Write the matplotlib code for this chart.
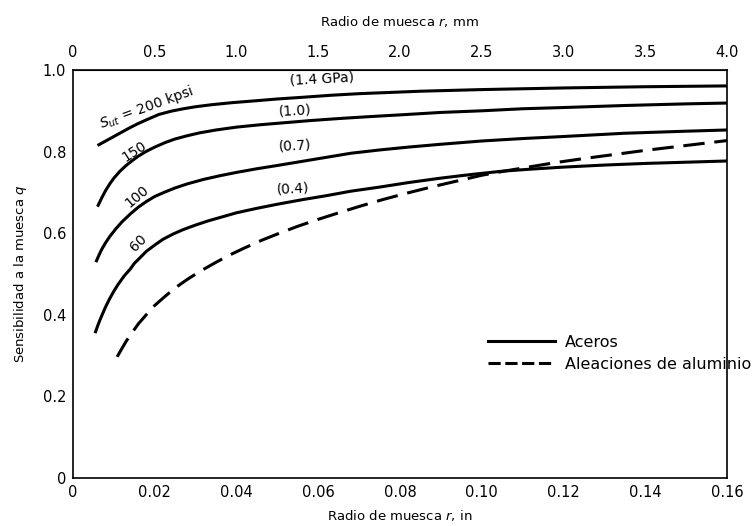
import numpy as np
import matplotlib
matplotlib.use('Agg')
import matplotlib.pyplot as plt
from matplotlib.lines import Line2D

plt.rcParams['font.family'] = ['DejaVu Sans']

# notch sensitivity q vs notch radius r (in), steels by S_ut and aluminium alloys
r_200 = [0.006, 0.008, 0.010, 0.012, 0.014, 0.016, 0.018, 0.021, 0.024, 0.027, 0.030, 0.034,
         0.039, 0.044, 0.050, 0.056, 0.063, 0.070, 0.085, 0.10, 0.12, 0.14, 0.16]
q_200 = [0.815, 0.826, 0.837, 0.848, 0.859, 0.869, 0.878, 0.891, 0.899, 0.905, 0.910, 0.915,
         0.920, 0.924, 0.929, 0.933, 0.938, 0.942, 0.948, 0.952, 0.956, 0.959, 0.961]

r_150 = [0.006, 0.007, 0.008, 0.009, 0.010, 0.0115, 0.013, 0.0145, 0.016, 0.018, 0.020, 0.0225,
         0.025, 0.028, 0.031, 0.035, 0.040, 0.046, 0.052, 0.058, 0.065, 0.073, 0.080, 0.09,
         0.10, 0.11, 0.12, 0.135, 0.15, 0.16]
q_150 = [0.665, 0.686, 0.705, 0.721, 0.735, 0.752, 0.766, 0.778, 0.789, 0.801, 0.811, 0.822,
         0.831, 0.839, 0.846, 0.853, 0.860, 0.866, 0.871, 0.876, 0.881, 0.886, 0.890, 0.896,
         0.900, 0.905, 0.908, 0.913, 0.917, 0.919]

r_100 = [0.0056, 0.0063, 0.007, 0.008, 0.009, 0.0105, 0.012, 0.014, 0.016, 0.018, 0.020, 0.0225,
         0.025, 0.028, 0.032, 0.036, 0.040, 0.045, 0.050, 0.056, 0.062, 0.068, 0.075, 0.082,
         0.09, 0.10, 0.11, 0.12, 0.135, 0.15, 0.16]
q_100 = [0.529, 0.545, 0.560, 0.577, 0.592, 0.611, 0.628, 0.647, 0.664, 0.678, 0.690, 0.701,
         0.711, 0.721, 0.732, 0.741, 0.749, 0.758, 0.766, 0.776, 0.786, 0.796, 0.804, 0.811,
         0.818, 0.826, 0.832, 0.837, 0.845, 0.850, 0.853]

r_60 = [0.0054, 0.006, 0.0065, 0.007, 0.008, 0.009, 0.010, 0.011, 0.0125, 0.014, 0.015, 0.0165,
        0.018, 0.020, 0.022, 0.0245, 0.027, 0.030, 0.033, 0.0365, 0.040, 0.045, 0.050, 0.056,
        0.062, 0.068, 0.075, 0.082, 0.09, 0.0975, 0.105, 0.112, 0.12, 0.13, 0.14, 0.15, 0.16]
q_60 = [0.355, 0.372, 0.385, 0.397, 0.420, 0.440, 0.458, 0.474, 0.495, 0.512, 0.526, 0.541,
        0.556, 0.571, 0.585, 0.598, 0.609, 0.620, 0.630, 0.640, 0.650, 0.661, 0.671, 0.682,
        0.692, 0.703, 0.713, 0.724, 0.735, 0.744, 0.752, 0.757, 0.762, 0.767, 0.771, 0.774, 0.777]

r_al = [0.0108, 0.012, 0.013, 0.0145, 0.016, 0.018, 0.020, 0.0225, 0.025, 0.028, 0.031, 0.0345,
        0.038, 0.042, 0.046, 0.0505, 0.055, 0.060, 0.065, 0.0705, 0.076, 0.082, 0.088, 0.094,
        0.10, 0.106, 0.112, 0.118, 0.125, 0.1325, 0.14, 0.15, 0.16]
q_al = [0.297, 0.318, 0.335, 0.357, 0.378, 0.401, 0.423, 0.445, 0.466, 0.487, 0.506, 0.526,
        0.545, 0.564, 0.582, 0.600, 0.617, 0.634, 0.650, 0.667, 0.683, 0.699, 0.714, 0.728,
        0.742, 0.753, 0.763, 0.773, 0.783, 0.793, 0.803, 0.815, 0.827]

x_ticks = [0, 0.02, 0.04, 0.06, 0.08, 0.10, 0.12, 0.14, 0.16]
x_ticklabels = ['0', '0.02', '0.04', '0.06', '0.08', '0.10', '0.12', '0.14', '0.16']
mm_ticks = [0, 0.5, 1.0, 1.5, 2.0, 2.5, 3.0, 3.5, 4.0]
mm_ticklabels = ['0', '0.5', '1.0', '1.5', '2.0', '2.5', '3.0', '3.5', '4.0']
y_ticks = [0, 0.2, 0.4, 0.6, 0.8, 1.0]
y_ticklabels = ['0', '0.2', '0.4', '0.6', '0.8', '1.0']

fig = plt.figure(figsize=(7.56, 5.26), dpi=100)
ax = fig.add_axes([73 / 756, 1 - 478 / 526, 654 / 756, 408 / 526])

lw = 2.2
for r, q in [(r_200, q_200), (r_150, q_150), (r_100, q_100), (r_60, q_60)]:
    ax.plot(r, q, color='black', lw=lw, solid_capstyle='butt', solid_joinstyle='round')
ax.plot(r_al, q_al, color='black', lw=lw, dashes=(7, 3.2))

ax.set_xlim(0, 0.16)
ax.set_ylim(0, 1.0)
ax.set_xticks(x_ticks)
ax.set_xticklabels(x_ticklabels)
ax.set_yticks(y_ticks)
ax.set_yticklabels(y_ticklabels)
ax.tick_params(length=0, labelsize=10.5, pad=5)
for s in ax.spines.values():
    s.set_linewidth(1.2)

top = ax.secondary_xaxis('top', functions=(lambda x: x * 25, lambda x: x / 25))
top.set_xticks(mm_ticks)
top.set_xticklabels(mm_ticklabels)
top.tick_params(length=0, labelsize=10.5, pad=7)
top.set_xlabel('Radio de muesca $r$, mm', fontsize=9.5, labelpad=14)

ax.set_xlabel('Radio de muesca $r$, in', fontsize=9.5, labelpad=6)
ax.set_ylabel('Sensibilidad a la muesca $q$', fontsize=9.5, labelpad=10)

# curve labels
lbl = dict(ha='center', va='center', rotation_mode='anchor', fontsize=10)
ax.text(0.0179, 0.909, '$S_{ut}$ = 200 kpsi', rotation=20, **lbl)
ax.text(0.0149, 0.801, '150', rotation=33, **lbl)
ax.text(0.0157, 0.691, '100', rotation=40, **lbl)
ax.text(0.0159, 0.576, '60', rotation=45, **lbl)
ax.text(0.0609, 0.978, '(1.4 GPa)', rotation=3, **lbl)
ax.text(0.0543, 0.900, '(1.0)', rotation=3, **lbl)
ax.text(0.0543, 0.814, '(0.7)', rotation=3, **lbl)
ax.text(0.0538, 0.708, '(0.4)', rotation=3, **lbl)

handles = [Line2D([], [], color='black', lw=lw),
           Line2D([], [], color='black', lw=lw, dashes=(4, 1.5))]
ax.legend(handles, ['Aceros', 'Aleaciones de aluminio'], loc='center left',
          bbox_to_anchor=(0.635, 0.306), frameon=False, borderpad=0,
          borderaxespad=0, handlelength=4.2, handletextpad=0.6,
          labelspacing=0.45, fontsize=11.5)

fig.savefig('out.png', dpi=100)
